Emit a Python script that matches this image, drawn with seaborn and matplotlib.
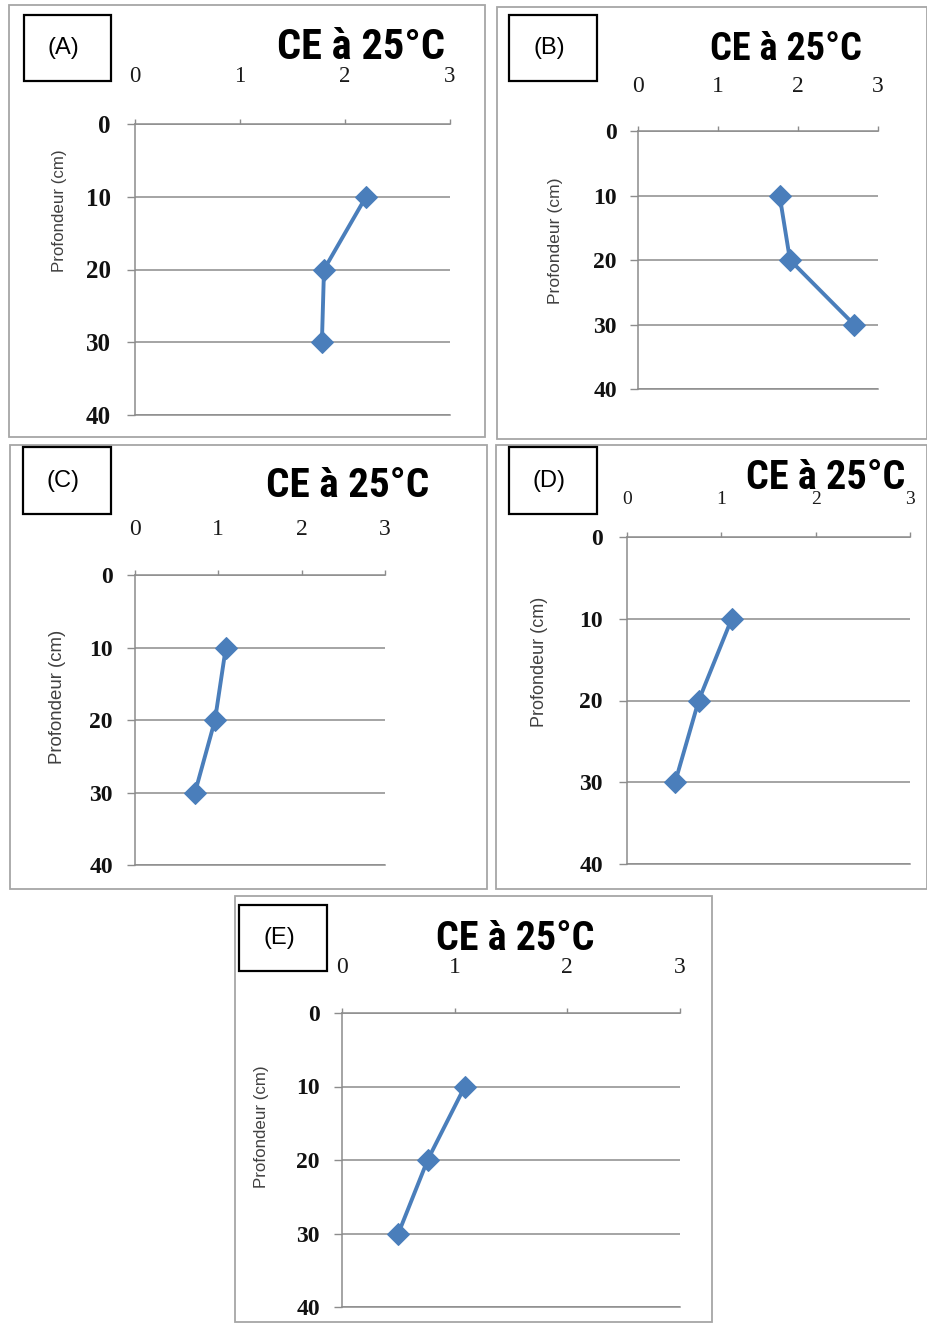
import os
import matplotlib
matplotlib.use('Agg')
import matplotlib.pyplot as plt
from matplotlib import font_manager
from matplotlib.patches import Rectangle
import seaborn as sns
import pandas as pd

# ---------------- data ----------------
depth_cm = [10, 20, 30]
ce_A = [2.20, 1.80, 1.78]
ce_B = [1.77, 1.90, 2.70]
ce_C = [1.09, 0.96, 0.72]
ce_D = [1.11, 0.76, 0.51]
ce_E = [1.09, 0.76, 0.50]
panel_labels = ['(A)', '(B)', '(C)', '(D)', '(E)']
x_ticks = [0, 1, 2, 3]
y_ticks = [0, 10, 20, 30, 40]
title_text = 'CE à 25°C'
ylabel_text = 'Profondeur (cm)'
series = [ce_A, ce_B, ce_C, ce_D, ce_E]

# ---------------- fonts ----------------
def font_file(name, weight='bold'):
    try:
        return font_manager.findfont(font_manager.FontProperties(family=name, weight=weight),
                                     fallback_to_default=False)
    except Exception:
        return None

sns.set_theme(style='white')
plt.rcParams['font.family'] = ['Liberation Sans', 'DejaVu Sans']

TITLE_FONT, TSCALE = 'Liberation Sans', 0.82
for cand, sc, key in [('Liberation Sans Narrow', 1.0, 'narrow'),
                      ('Roboto Condensed', 1.0, 'condensed'),
                      ('Roboto', 0.88, 'roboto')]:
    f = font_file(cand)
    if f and key in os.path.basename(f).lower():
        TITLE_FONT, TSCALE = cand, sc
        break
SERIF = 'Liberation Serif'

W, H = 928, 1323
PT = 72 / 100.0  # points per pixel at dpi 100

# layout (pixels)
layout = [
    dict(frame=(9, 5, 485, 437), box=(24, 15, 111, 81), ax=(135, 124, 450, 415),
         title=(361, 59, 30.5), xt=(16.5, 37), yt=(18, 16), yl=(60, 211, 12.2)),
    dict(frame=(497, 7, 927, 439), box=(509, 15, 597, 81), ax=(638, 131, 878, 389),
         title=(786, 60, 27.5), xt=(17, 34), yt=(17, 13), yl=(556, 241, 12.6)),
    dict(frame=(10, 445, 487, 889), box=(23, 447, 111, 514), ax=(135, 575, 385, 865),
         title=(348, 497, 29.7), xt=(17, 35), yt=(17, 14), yl=(58, 697, 13.4)),
    dict(frame=(496, 445, 927, 889), box=(509, 447, 597, 514), ax=(627, 537, 910, 864),
         title=(826, 489, 29.0), xt=(14, 29), yt=(17, 16), yl=(540, 662, 13.0)),
    dict(frame=(235, 896, 712, 1322), box=(239, 905, 327, 971), ax=(342, 1013, 680, 1307),
         title=(515, 950, 28.8), xt=(17, 35), yt=(17, 14), yl=(262, 1127, 12.2)),
]

LINE_C = '#4A7EBB'
GRID_C = '#8C8C8C'

fig = plt.figure(figsize=(W / 100, H / 100), dpi=100)
fig.patch.set_facecolor('white')

bg = fig.add_axes([0, 0, 1, 1], zorder=0)
bg.set_xlim(0, W)
bg.set_ylim(H, 0)
bg.axis('off')

for lab, vals, L in zip(panel_labels, series, layout):
    fx0, fy0, fx1, fy1 = L['frame']
    bg.add_patch(Rectangle((fx0, fy0), fx1 - fx0, fy1 - fy0, fill=False,
                           edgecolor='#A6A6A6', lw=1.3))
    bx0, by0, bx1, by1 = L['box']
    bg.add_patch(Rectangle((bx0, by0), bx1 - bx0, by1 - by0, fill=False,
                           edgecolor='black', lw=1.6, zorder=3))
    bg.text((bx0 + bx1) / 2 - 4, (by0 + by1) / 2, lab, ha='center', va='center',
            fontsize=17, color='black', family='Liberation Sans')
    tx, tb, ts = L['title']
    bg.text(tx, tb, title_text, ha='center', va='baseline',
            fontsize=ts * TSCALE, fontweight='bold', color='black',
            family=TITLE_FONT)

    l, t, r, b = L['ax']
    ax = fig.add_axes([l / W, 1 - b / H, (r - l) / W, (b - t) / H], zorder=1)
    ax.set_facecolor('none')
    df = pd.DataFrame({'ce': vals, 'depth': depth_cm})
    sns.lineplot(data=df, x='ce', y='depth', orient='y', sort=False,
                 estimator=None, marker='D', markersize=11, color=LINE_C,
                 markeredgecolor=LINE_C, linewidth=2.8, ax=ax, zorder=5,
                 clip_on=False)
    ax.set_xlim(0, 3)
    ax.set_ylim(40, 0)
    ax.xaxis.tick_top()
    ax.set_xticks(x_ticks)
    ax.set_yticks(y_ticks)
    ax.set_xticklabels([str(v) for v in x_ticks])
    ax.set_yticklabels([str(v) for v in y_ticks])
    ax.set_xlabel('')

    xts, xgap = L['xt']
    yts, ygap = L['yt']
    ax.tick_params(axis='x', which='both', top=True, bottom=False, labeltop=True,
                   labelbottom=False, direction='out', length=5 * PT, width=1,
                   color=GRID_C, pad=(xgap - 5) * PT, labelsize=xts,
                   labelcolor='#1a1a1a')
    ax.tick_params(axis='y', which='both', left=True, direction='out',
                   length=8 * PT, width=1, color=GRID_C, pad=ygap * PT,
                   labelsize=yts, labelcolor='#111111')
    for tl in ax.get_xticklabels():
        tl.set_family(SERIF)
    for tl in ax.get_yticklabels():
        tl.set_family(SERIF)
        tl.set_fontweight('bold')

    ax.grid(False)
    ax.grid(axis='y', color=GRID_C, lw=1.1)
    for s in ['top', 'left', 'bottom']:
        ax.spines[s].set_visible(True)
        ax.spines[s].set_color(GRID_C)
        ax.spines[s].set_linewidth(1.1)
    ax.spines['right'].set_visible(False)

    ylx, yly, yls = L['yl']
    ax.set_ylabel(ylabel_text, fontsize=yls, color='#404040', family='Liberation Sans')
    ax.yaxis.label.set_rotation_mode('anchor')
    ax.yaxis.label.set_ha('center')
    ax.yaxis.label.set_va('center')
    ax.yaxis.set_label_coords((ylx - l) / (r - l), (b - yly) / (b - t))

fig.savefig('out.png', dpi=100, facecolor='white')
